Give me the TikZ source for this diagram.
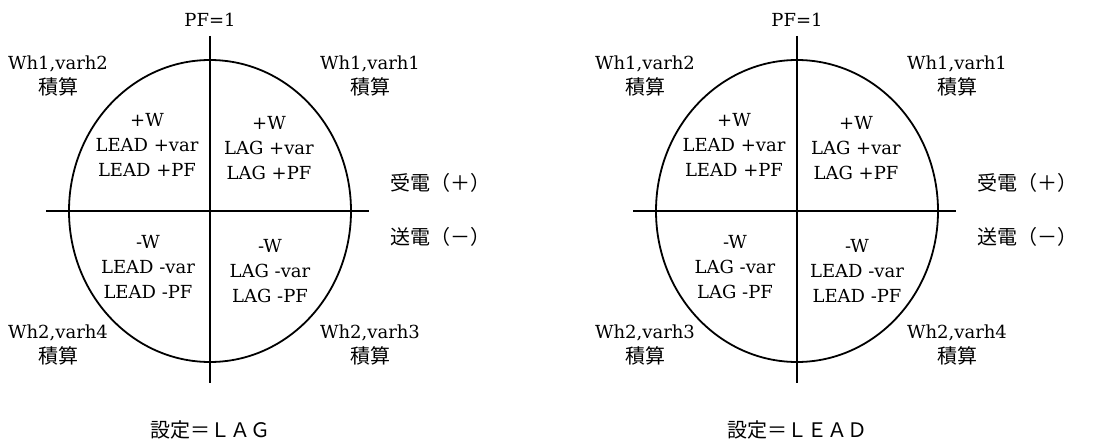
\documentclass[tikz,border=0pt]{standalone}
\usepackage{fontspec}
\setmainfont{DejaVu Serif}
\newfontfamily\cjk{Noto Sans CJK JP}
\tikzset{
  lbl/.style={inner sep=0pt,align=center,font=\fontsize{18}{25}\selectfont},
  jlbl/.style={lbl,font=\fontsize{20}{25}\selectfont\cjk}
}
\begin{document}
\begin{tikzpicture}
  [x=1pt,y=-1pt,line width=1.8pt,every node/.style={lbl}]
  \useasboundingbox (0,0) rectangle (1118,441);

  % one panel per setting: name/centre/setting/lower-left/lower-right/varh
  \foreach \p/\cx/\set/\ql/\qr/\vl/\vr in {a/210/ＬＡＧ/LEAD/LAG/4/3,b/797/ＬＥＡＤ/LAG/LEAD/3/4} {
    \coordinate (o\p) at (\cx,211);
    \coordinate (n\p) at (\cx,36);
    \coordinate (s\p) at (\cx,383);
    \coordinate (w\p) at (\cx-164,211);
    \coordinate (e\p) at (\cx+159,211);
    \draw (o\p) ellipse [x radius=141pt,y radius=151pt];
    \draw (n\p) -- (s\p);
    \draw (w\p) -- (e\p);

    \node (pf\p) at (\cx,20) {PF=1};
    \node (nw\p) at (\cx-152,76)  {Wh1,varh2\\{\cjk\fontsize{20}{25}\selectfont 積算}};
    \node (ne\p) at (\cx+160,76)  {Wh1,varh1\\{\cjk\fontsize{20}{25}\selectfont 積算}};
    \node (sw\p) at (\cx-152,345) {Wh2,varh\vl\\{\cjk\fontsize{20}{25}\selectfont 積算}};
    \node (se\p) at (\cx+160,345) {Wh2,varh\vr\\{\cjk\fontsize{20}{25}\selectfont 積算}};

    \node (q2\p) at (\cx-63,145) {+W\\LEAD +var\\LEAD +PF};
    \node (q1\p) at (\cx+59,148) {+W\\LAG +var\\LAG +PF};
    \node (q3\p) at (\cx-62,267) {-W\\\ql{} -var\\\ql{} -PF};
    \node (q4\p) at (\cx+60,271) {-W\\\qr{} -var\\\qr{} -PF};

    \node[jlbl] (rx\p) at (\cx+230,183) {受電（＋）};
    \node[jlbl] (tx\p) at (\cx+230,237) {送電（－）};
    \node[jlbl] (set\p) at (\cx,430) {設定＝\set};
  }
\end{tikzpicture}
\end{document}
